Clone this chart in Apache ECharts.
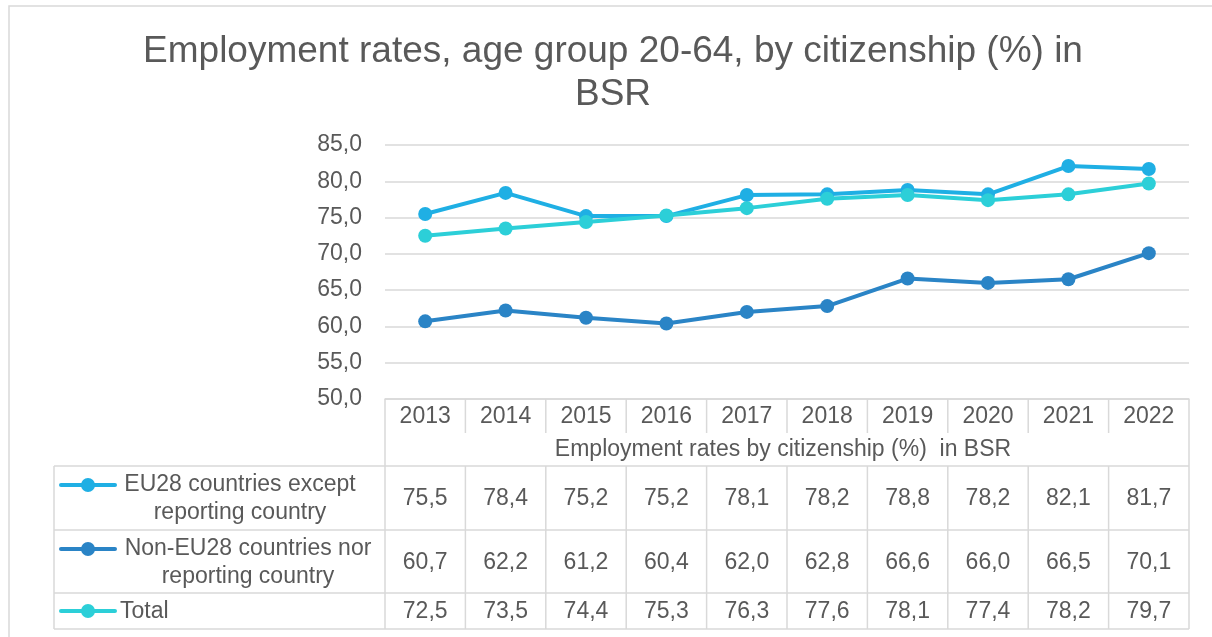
<!DOCTYPE html>
<html><head><meta charset="utf-8">
<script src="https://cdn.jsdelivr.net/npm/echarts@6/dist/echarts.min.js"></script>
<style>html,body{margin:0;padding:0;background:#fff}#c{width:1212px;height:637px}</style>
</head><body><div id="c"></div>
<script>
const years = ['2013','2014','2015','2016','2017','2018','2019','2020','2021','2022'];
const eu28 = [75.5,78.4,75.2,75.2,78.1,78.2,78.8,78.2,82.1,81.7];
const nonEu28 = [60.7,62.2,61.2,60.4,62.0,62.8,66.6,66.0,66.5,70.1];
const total = [72.5,73.5,74.4,75.3,76.3,77.6,78.1,77.4,78.2,79.7];
const seriesNames = ['EU28 countries except\nreporting country','Non-EU28 countries nor\nreporting country','Total'];
const yTicks = {min:50, max:85, interval:5};
const titleText = 'Employment rates, age group 20-64, by citizenship (%) in\nBSR';
const tableCaption = 'Employment rates by citizenship (%)  in BSR';

const colors = ['#1FAFE4','#2A84C6','#2CCFD8'];
const textColor = '#595959';
const lineCol = '#D9D9D9';
const FONT = '"Liberation Sans", Arial, sans-serif';
const FS = 23;
const fmt = v => v.toFixed(1).replace('.', ',');

const G = {left:385, right:23, top:145, bottom:238};
const chart = echarts.init(document.getElementById('c'));
const allSeries = [eu28, nonEu28, total];
chart.setOption({
  animation:false,
  textStyle:{fontFamily:FONT},
  grid:G,
  xAxis:{type:'category', data:years, boundaryGap:true,
    axisLine:{show:true, lineStyle:{color:lineCol, width:1.5}},
    axisTick:{show:false},
    axisLabel:{color:textColor, fontSize:FS, fontFamily:FONT, margin:6}},
  yAxis:{type:'value', min:yTicks.min, max:yTicks.max, interval:yTicks.interval,
    axisLine:{show:false}, axisTick:{show:false},
    axisLabel:{color:textColor, fontSize:FS, fontFamily:FONT, margin:23, formatter:fmt},
    splitLine:{lineStyle:{color:lineCol, width:1.5}}},
  series: allSeries.map((d,i)=>({
    type:'line', name:seriesNames[i], data:d, symbol:'circle', symbolSize:14,
    lineStyle:{width:4, color:colors[i]}, itemStyle:{color:colors[i]}, z: i===2?3:(i===0?2:1)
  }))
});

function buildTable(){
  const centers = years.map((y,i)=>chart.convertToPixel({xAxisIndex:0}, i));
  const band = centers.length>1 ? centers[1]-centers[0] : 80;
  const x0 = centers[0]-band/2, x1 = centers[centers.length-1]+band/2;
  const yAxisY = chart.convertToPixel({yAxisIndex:0}, yTicks.min);
  const hdrBottom = yAxisY + 34;
  const capBottom = 466;
  const rows = [capBottom, 530, 593, 629];
  const tableLeft = 54;
  const g = [];
  const L = (xa,ya,xb,yb)=>g.push({type:'line', shape:{x1:xa,y1:ya,x2:xb,y2:yb}, style:{stroke:lineCol, lineWidth:1.5}, silent:true});
  g.push({type:'rect', shape:{x:9,y:6,width:1230,height:660}, style:{fill:null, stroke:lineCol, lineWidth:1.5}, silent:true});
  g.push({type:'text', x:613, y:30, style:{text:titleText, font:'37px '+FONT, fill:textColor, textAlign:'center', textVerticalAlign:'top', lineHeight:43}, silent:true});
  for(let i=0;i<=years.length;i++){
    const x = x0 + band*i;
    if(i===0 || i===years.length) L(x, yAxisY, x, rows[3]);
    else { L(x, yAxisY, x, hdrBottom); L(x, capBottom, x, rows[3]); }
  }
  rows.forEach(y=>L(tableLeft, y, x1, y));
  L(tableLeft, rows[0], tableLeft, rows[3]);
  g.push({type:'text', x:(x0+x1)/2 - 4, y:(hdrBottom+capBottom)/2, style:{text:tableCaption, font:FS+'px '+FONT, fill:textColor, textAlign:'center', textVerticalAlign:'middle'}, silent:true});
  const legendCenters = [240, 248, null];
  allSeries.forEach((d,r)=>{
    const cy = (rows[r]+rows[r+1])/2;
    d.forEach((v,i)=>{
      g.push({type:'text', x:centers[i], y:cy+1, style:{text:fmt(v), font:FS+'px '+FONT, fill:textColor, textAlign:'center', textVerticalAlign:'middle'}, silent:true});
    });
    const ky = r<2 ? rows[r]+19 : cy;
    g.push({type:'line', shape:{x1:61,y1:ky,x2:115,y2:ky}, style:{stroke:colors[r], lineWidth:4, lineCap:'round'}, silent:true});
    g.push({type:'circle', shape:{cx:88,cy:ky,r:7}, style:{fill:colors[r]}, silent:true});
    if(legendCenters[r]!==null){
      g.push({type:'text', x:legendCenters[r], y:cy+1, style:{text:seriesNames[r], font:FS+'px '+FONT, fill:textColor, textAlign:'center', textVerticalAlign:'middle', lineHeight:28}, silent:true});
    } else {
      g.push({type:'text', x:120, y:cy+1, style:{text:seriesNames[r], font:FS+'px '+FONT, fill:textColor, textAlign:'left', textVerticalAlign:'middle'}, silent:true});
    }
  });
  chart.setOption({graphic:g});
}
buildTable();
</script></body></html>
